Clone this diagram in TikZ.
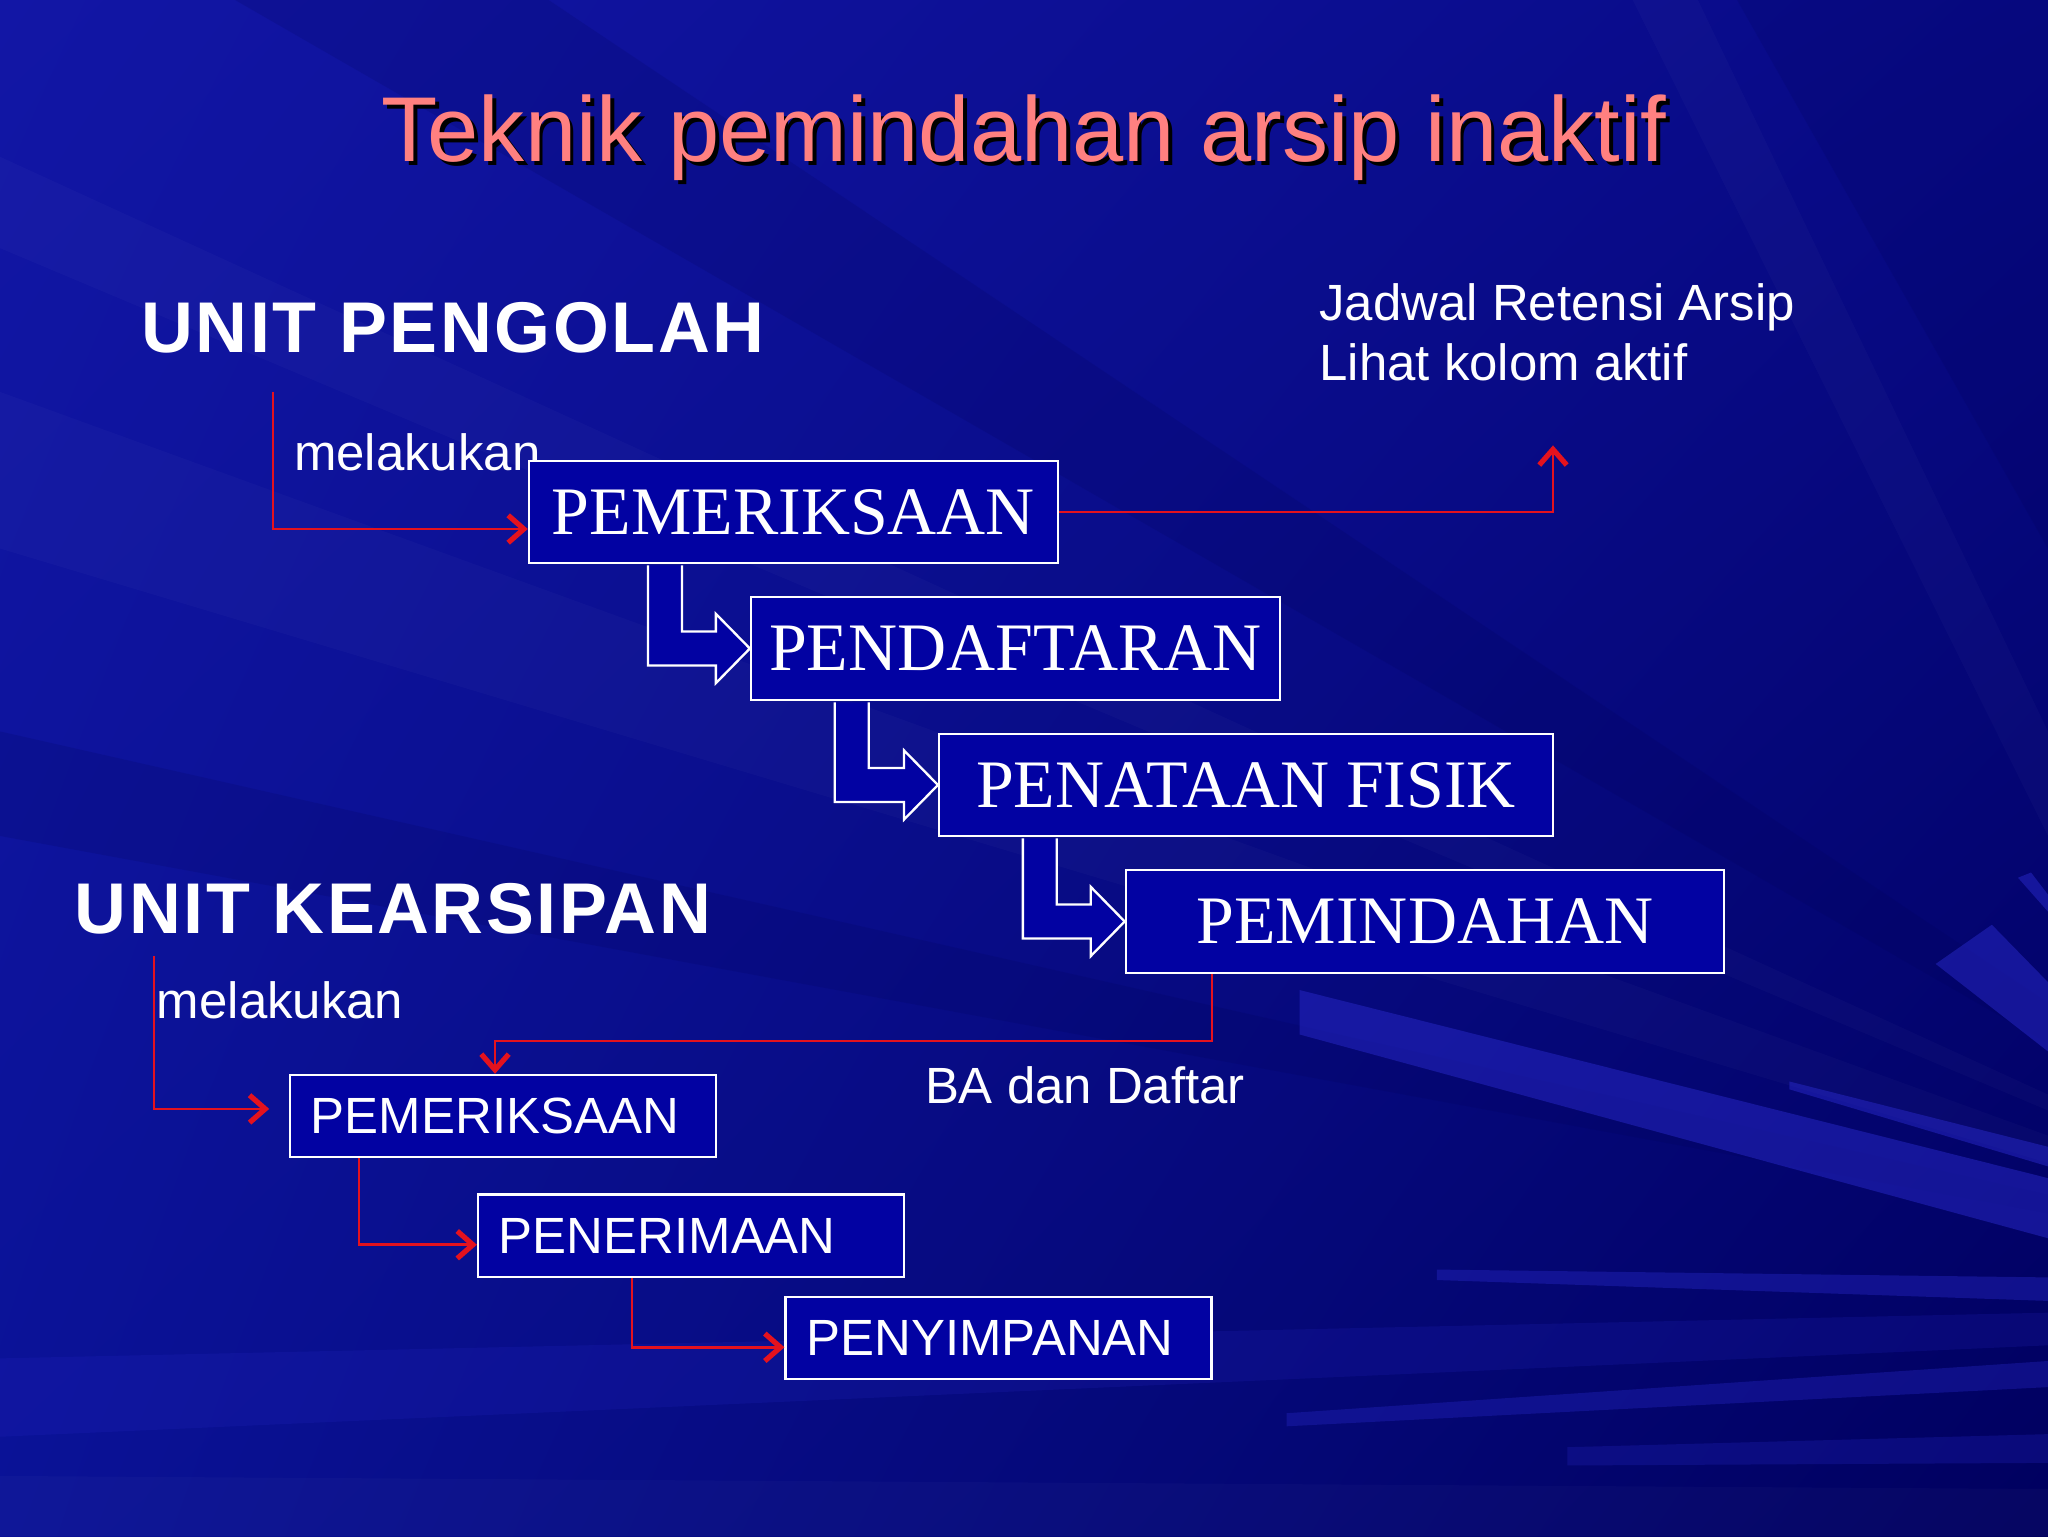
\documentclass[tikz,border=0pt]{standalone}
\usepackage{fontspec}
\setmainfont{Liberation Serif}
\setsansfont{Liberation Sans}
\usetikzlibrary{arrows.meta,calc,shadings}
\definecolor{bgUL}{RGB}{18,22,165}
\definecolor{bgUR}{RGB}{8,10,135}
\definecolor{bgLL}{RGB}{10,18,150}
\definecolor{bgLR}{RGB}{0,0,95}
\definecolor{boxblue}{RGB}{2,2,162}
\definecolor{redl}{RGB}{228,18,30}
\definecolor{salmon}{RGB}{255,128,128}
\definecolor{raylight}{RGB}{40,40,200}
\definecolor{raydark}{RGB}{0,0,80}
\tikzset{
  serifbox/.style={draw=white, line width=1.8pt, fill=boxblue, text=white,
    font=\fontsize{52}{52}\selectfont\rmfamily, inner sep=0pt},
  sansbox/.style={draw=white, line width=1.8pt, fill=boxblue, text=white,
    font=\fontsize{39}{39}\selectfont\sffamily, inner xsep=16pt, inner ysep=0pt,
    text width=294pt, align=left, minimum height=63pt},
  lbl/.style={text=white, font=\fontsize{39}{39}\selectfont\sffamily, inner sep=0pt, anchor=base west},
  headtxt/.style={text=white, font=\fontsize{55}{55}\selectfont\sffamily\bfseries\addfontfeature{LetterSpace=3.6}, inner sep=0pt, anchor=base west},
  redline/.style={draw=redl, line width=2pt, -{Straight Barb[length=12pt, width=21pt, line width=4pt]}},
  blockarrow/.style={draw=white, line width=1.8pt, fill=boxblue, line join=miter},
  lightray/.style={fill=raylight, opacity=0.5},
  faintray/.style={fill=white, opacity=0.022},
  darkray/.style={fill=raydark, opacity=0.15},
}
\begin{document}
\begin{tikzpicture}[x=1pt, y=-1pt]
\useasboundingbox (0,0) rectangle (1568,1176);
% background
\shade[upper left=bgUL, upper right=bgUR, lower left=bgLL, lower right=bgLR] (0,0) rectangle (1568,1176);
\begin{scope}
\clip (0,0) rectangle (1568,1176);
% faint rays from upper left
\fill[faintray] (0,120) -- (0,190) -- (1900,990) -- cycle;
\fill[faintray] (0,300) -- (0,420) -- (1900,990) -- cycle;
\fill[darkray] (180,0) -- (420,0) -- (1900,990) -- cycle;
\fill[darkray] (0,560) -- (0,640) -- (1900,990) -- cycle;
\fill[faintray] (1250,0) -- (1300,0) -- (1568,560) -- (1568,640) -- cycle;
\fill[darkray] (1330,0) -- (1568,0) -- (1568,420) -- cycle;
% bright rays lower right
\fill[lightray] (995,758) -- (1568,902) -- (1568,948) -- (995,792) -- cycle;
\fill[lightray] (1370,828) -- (1568,878) -- (1568,893) -- (1370,834) -- cycle;
\fill[lightray] (1482,738) -- (1525,708) -- (1568,752) -- (1568,805) -- cycle;
\fill[lightray] (1545,672) -- (1555,668) -- (1568,685) -- (1568,698) -- cycle;
\fill[lightray,opacity=0.4] (1100,972) -- (1568,978) -- (1568,996) -- (1100,980) -- cycle;
\fill[lightray,opacity=0.18] (0,1040) -- (1568,1005) -- (1568,1030) -- (0,1100) -- cycle;
\fill[lightray,opacity=0.35] (985,1082) -- (1568,1042) -- (1568,1062) -- (985,1092) -- cycle;
\fill[lightray,opacity=0.25] (1200,1108) -- (1568,1098) -- (1568,1120) -- (1200,1122) -- cycle;
\fill[faintray] (0,1130) -- (1568,1140) -- (1568,1176) -- (0,1176) -- cycle;
\end{scope}

% title with shadow
\node[anchor=base, inner sep=0pt, text=black, font=\fontsize{70.5}{70.5}\selectfont\sffamily] (titleshadow) at (787,127) {Teknik pemindahan arsip inaktif};
\node[anchor=base, inner sep=0pt, text=salmon, font=\fontsize{70.5}{70.5}\selectfont\sffamily] (title) at (784,124) {Teknik pemindahan arsip inaktif};

% headings and labels
\node[headtxt] (upengolah) at (108,270) {UNIT PENGOLAH};
\node[headtxt] (ukearsipan) at (57,715) {UNIT KEARSIPAN};
\node[lbl] (jra1) at (1010,245) {Jadwal Retensi Arsip};
\node[lbl] (jra2) at (1010,291) {Lihat kolom aktif};
\node[lbl] (mel1) at (225,360) {melakukan};
\node[lbl] (mel2) at (120,780) {melakukan};
\node[lbl] (ba) at (708,845) {BA dan Daftar};

% upper boxes
\node[serifbox, minimum width=405pt, minimum height=78pt] (B1) at (607.5,392) {PEMERIKSAAN};
\node[serifbox, minimum width=405pt, minimum height=79pt] (B2) at (777.5,496.5) {PENDAFTARAN};
\node[serifbox, minimum width=470pt, minimum height=78pt] (B3) at (954,601) {PENATAAN FISIK};
\node[serifbox, minimum width=458pt, minimum height=79pt] (B4) at (1091,705.5) {PEMINDAHAN};

% lower boxes
\node[sansbox] (L1) at (385,854.5) {PEMERIKSAAN};
\node[sansbox] (L2) at (529,946) {PENERIMAAN};
\node[sansbox] (L3) at (764.5,1024.5) {PENYIMPANAN};

% block arrows
\draw[blockarrow] let \p1=($(B1.south west)+(92,0)$), \p2=(B2.west) in
  (\x1,\y1-0.9pt) -- (\x1,\y2-13pt) -- (\x2-26pt,\y2-13pt) -- (\x2-26pt,\y2-26.5pt) -- (\x2,\y2)
  -- (\x2-26pt,\y2+26.5pt) -- (\x2-26pt,\y2+13pt) -- (\x1+26pt,\y2+13pt) -- (\x1+26pt,\y1-0.9pt);
\draw[blockarrow] let \p1=($(B2.south west)+(65,0)$), \p2=(B3.west) in
  (\x1,\y1-0.9pt) -- (\x1,\y2-13pt) -- (\x2-26pt,\y2-13pt) -- (\x2-26pt,\y2-26.5pt) -- (\x2,\y2)
  -- (\x2-26pt,\y2+26.5pt) -- (\x2-26pt,\y2+13pt) -- (\x1+26pt,\y2+13pt) -- (\x1+26pt,\y1-0.9pt);
\draw[blockarrow] let \p1=($(B3.south west)+(65,0)$), \p2=(B4.west) in
  (\x1,\y1-0.9pt) -- (\x1,\y2-13pt) -- (\x2-26pt,\y2-13pt) -- (\x2-26pt,\y2-26.5pt) -- (\x2,\y2)
  -- (\x2-26pt,\y2+26.5pt) -- (\x2-26pt,\y2+13pt) -- (\x1+26pt,\y2+13pt) -- (\x1+26pt,\y1-0.9pt);

% red connectors
\coordinate (s1) at (209,300);
\coordinate (jrs) at (1189,341);
\coordinate (s2) at (118,732);
\coordinate (bend) at (0,797);
\coordinate (b4o) at ([xshift=-163pt]B4.south);
\draw[redline] (s1) |- ([yshift=-13pt]B1.west);
\draw[redline] (B1.east) -| (jrs);
\draw[redline] (b4o) -- (b4o |- bend) -| ([xshift=-6pt]L1.north);
\draw[redline] (s2) |- ([xshift=-15pt,yshift=5.5pt]L1.west);
\draw[redline] ([xshift=-110pt]L1.south) |- ([yshift=-7pt]L2.west);
\draw[redline] ([xshift=-45pt]L2.south) |- ([yshift=-7pt]L3.west);
\end{tikzpicture}
\end{document}
